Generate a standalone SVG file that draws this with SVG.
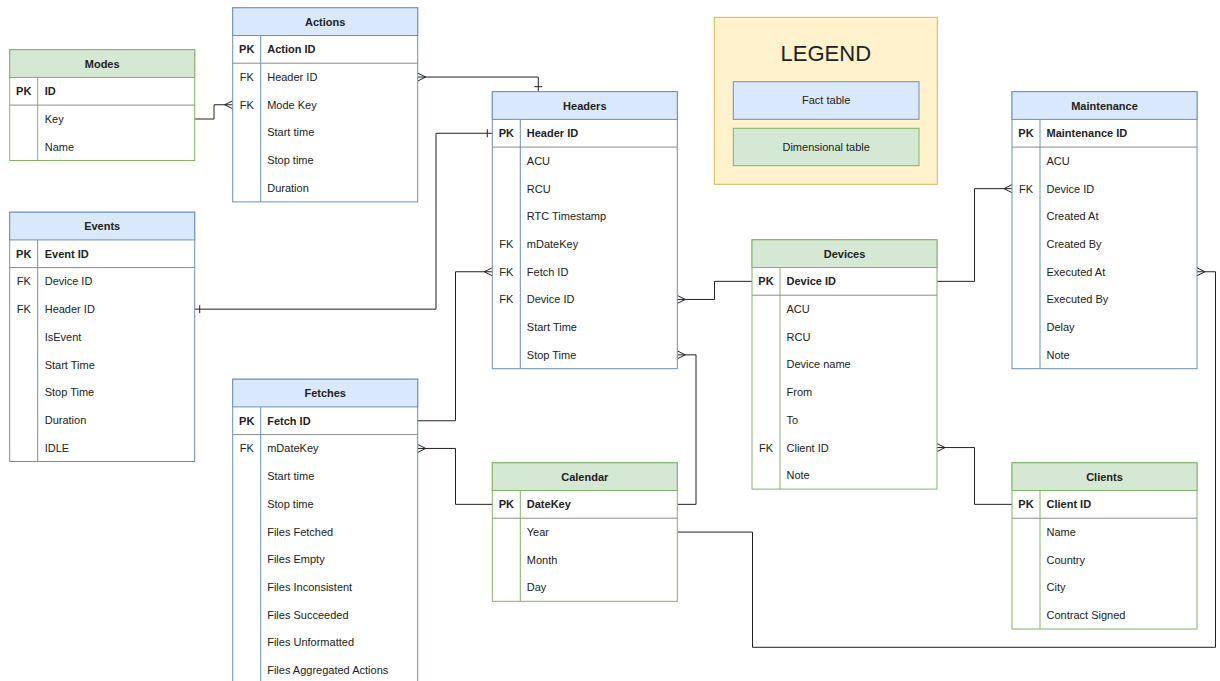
<svg xmlns="http://www.w3.org/2000/svg" width="1220" height="681" viewBox="0 0 1220 681">
<style>
text{font-family:"Liberation Sans",Arial,Helvetica,sans-serif;font-size:11px;fill:#222}
.t{font-weight:bold;text-anchor:middle}
.k{text-anchor:middle}
.kb{text-anchor:middle;font-weight:bold}
.pk{font-weight:bold}
.fbox{fill:#fff;stroke:#6c8ebf;stroke-width:1}
.fhead{fill:#dae8fc;stroke:#6c8ebf;stroke-width:1}
.fline{stroke:#6c8ebf;stroke-width:1}
.dbox{fill:#fff;stroke:#82b366;stroke-width:1}
.dhead{fill:#d5e8d4;stroke:#82b366;stroke-width:1}
.dline{stroke:#82b366;stroke-width:1}
.sep{stroke:#8c8c8c;stroke-width:1}
.conn{fill:none;stroke:#222;stroke-width:1}
.leg{text-anchor:middle}
</style>
<defs>
<marker id="many" viewBox="-10 -6 12 12" refX="0" refY="0" markerWidth="12" markerHeight="12" markerUnits="userSpaceOnUse" orient="auto-start-reverse"><path d="M0,-4 L-8,0 L0,4" fill="none" stroke="#222" stroke-width="1"/></marker>
<marker id="one" viewBox="-10 -6 12 12" refX="0" refY="0" markerWidth="12" markerHeight="12" markerUnits="userSpaceOnUse" orient="auto-start-reverse"><path d="M-5,-4 L-5,4" fill="none" stroke="#222" stroke-width="1"/></marker>
</defs>
<rect width="1220" height="681" fill="#ffffff"/>

<g id="connectors">
<path class="conn" d="M194.7 119 H214 V104.75 H232.7" marker-end="url(#many)"/>
<path class="conn" d="M417.7 77.05 H538.3 V91.7" marker-start="url(#many)" marker-end="url(#one)"/>
<path class="conn" d="M194.7 309.15 H436 V133.25 H492.3" marker-start="url(#one)" marker-end="url(#one)"/>
<path class="conn" d="M417.7 420.75 H455.5 V271.75 H492.3" marker-end="url(#many)"/>
<path class="conn" d="M417.7 448.45 H455.5 V504.35 H492.3" marker-start="url(#many)"/>
<path class="conn" d="M677.3 354.85 H696 V504.35 H677.3" marker-start="url(#many)"/>
<path class="conn" d="M677.3 299.45 H714.5 V281.35 H752" marker-start="url(#many)"/>
<path class="conn" d="M937 281.35 H974.5 V188.65 H1012" marker-end="url(#many)"/>
<path class="conn" d="M937 447.55 H974.5 V504.35 H1012" marker-start="url(#many)"/>
<path class="conn" d="M1197 271.75 H1215.5 V647.3 H752.5 V532.05 H677.3" marker-start="url(#many)"/>
</g>

<g id="legend">
<rect x="714.3" y="17.3" width="223" height="167" fill="#fff2cc" stroke="#d6b656"/>
<text x="825.8" y="61.2" class="leg" style="font-size:22px">LEGEND</text>
<rect x="733.3" y="81.7" width="185.7" height="37.6" fill="#dae8fc" stroke="#6c8ebf"/>
<text x="826.2" y="104.3" class="leg">Fact table</text>
<rect x="733.3" y="128.3" width="185.7" height="37.4" fill="#d5e8d4" stroke="#82b366"/>
<text x="826.2" y="150.9" class="leg">Dimensional table</text>
</g>

<g id="modes">
<rect class="dbox" x="9.7" y="49.7" width="185" height="110.8"/>
<rect class="dhead" x="9.7" y="49.7" width="185" height="27.7"/>
<line class="sep" x1="9.7" y1="105.1" x2="194.7" y2="105.1"/>
<line class="dline" x1="37.7" y1="77.4" x2="37.7" y2="160.5"/>
<text class="t" x="102.2" y="67.55">Modes</text>
<text class="kb" x="23.7" y="95.25">PK</text><text class="pk" x="44.7" y="95.25">ID</text>
<text x="44.7" y="123">Key</text>
<text x="44.7" y="150.7">Name</text>
</g>

<g id="actions">
<rect class="fbox" x="232.7" y="7.8" width="185" height="194.1"/>
<rect class="fhead" x="232.7" y="7.8" width="185" height="27.7"/>
<line class="sep" x1="232.7" y1="63.2" x2="417.7" y2="63.2"/>
<line class="fline" x1="260.7" y1="35.5" x2="260.7" y2="201.9"/>
<text class="t" x="325.2" y="25.65">Actions</text>
<text class="kb" x="246.7" y="53.35">PK</text><text class="pk" x="267.2" y="53.35">Action ID</text>
<text class="k" x="246.7" y="81.05">FK</text><text x="267.2" y="81.05">Header ID</text>
<text class="k" x="246.7" y="108.75">FK</text><text x="267.2" y="108.75">Mode Key</text>
<text x="267.2" y="136.45">Start time</text>
<text x="267.2" y="164.15">Stop time</text>
<text x="267.2" y="191.85">Duration</text>
</g>

<g id="events">
<rect class="fbox" x="9.7" y="212.2" width="185" height="249.3"/>
<rect class="fhead" x="9.7" y="212.2" width="185" height="27.7"/>
<line class="sep" x1="9.7" y1="267.6" x2="194.7" y2="267.6"/>
<line class="fline" x1="37.7" y1="239.9" x2="37.7" y2="461.5"/>
<text class="t" x="102.2" y="230.05">Events</text>
<text class="kb" x="23.7" y="257.75">PK</text><text class="pk" x="44.7" y="257.75">Event ID</text>
<text class="k" x="23.7" y="285.45">FK</text><text x="44.7" y="285.45">Device ID</text>
<text class="k" x="23.7" y="313.15">FK</text><text x="44.7" y="313.15">Header ID</text>
<text x="44.7" y="340.85">IsEvent</text>
<text x="44.7" y="368.55">Start Time</text>
<text x="44.7" y="396.25">Stop Time</text>
<text x="44.7" y="423.95">Duration</text>
<text x="44.7" y="451.65">IDLE</text>
</g>

<g id="fetches">
<rect class="fbox" x="232.7" y="379.2" width="185" height="310"/>
<rect class="fhead" x="232.7" y="379.2" width="185" height="27.7"/>
<line class="sep" x1="232.7" y1="434.6" x2="417.7" y2="434.6"/>
<line class="fline" x1="260.7" y1="406.9" x2="260.7" y2="690"/>
<text class="t" x="325.2" y="397.05">Fetches</text>
<text class="kb" x="246.7" y="424.75">PK</text><text class="pk" x="267.2" y="424.75">Fetch ID</text>
<text class="k" x="246.7" y="452.45">FK</text><text x="267.2" y="452.45">mDateKey</text>
<text x="267.2" y="480.15">Start time</text>
<text x="267.2" y="507.85">Stop time</text>
<text x="267.2" y="535.55">Files Fetched</text>
<text x="267.2" y="563.25">Files Empty</text>
<text x="267.2" y="590.95">Files Inconsistent</text>
<text x="267.2" y="618.65">Files Succeeded</text>
<text x="267.2" y="646.35">Files Unformatted</text>
<text x="267.2" y="674.05">Files Aggregated Actions</text>
</g>

<g id="headers">
<rect class="fbox" x="492.3" y="91.7" width="185" height="277"/>
<rect class="fhead" x="492.3" y="91.7" width="185" height="27.7"/>
<line class="sep" x1="492.3" y1="147.1" x2="677.3" y2="147.1"/>
<line class="fline" x1="520.3" y1="119.4" x2="520.3" y2="368.7"/>
<text class="t" x="584.8" y="109.55">Headers</text>
<text class="kb" x="506.3" y="137.25">PK</text><text class="pk" x="526.8" y="137.25">Header ID</text>
<text x="526.8" y="164.95">ACU</text>
<text x="526.8" y="192.65">RCU</text>
<text x="526.8" y="220.35">RTC Timestamp</text>
<text class="k" x="506.3" y="248.05">FK</text><text x="526.8" y="248.05">mDateKey</text>
<text class="k" x="506.3" y="275.75">FK</text><text x="526.8" y="275.75">Fetch ID</text>
<text class="k" x="506.3" y="303.45">FK</text><text x="526.8" y="303.45">Device ID</text>
<text x="526.8" y="331.15">Start Time</text>
<text x="526.8" y="358.85">Stop Time</text>
</g>

<g id="calendar">
<rect class="dbox" x="492.3" y="462.8" width="185" height="138.5"/>
<rect class="dhead" x="492.3" y="462.8" width="185" height="27.7"/>
<line class="sep" x1="492.3" y1="518.2" x2="677.3" y2="518.2"/>
<line class="dline" x1="520.3" y1="490.5" x2="520.3" y2="601.3"/>
<text class="t" x="584.8" y="480.65">Calendar</text>
<text class="kb" x="506.3" y="508.35">PK</text><text class="pk" x="526.8" y="508.35">DateKey</text>
<text x="526.8" y="536.05">Year</text>
<text x="526.8" y="563.75">Month</text>
<text x="526.8" y="591.45">Day</text>
</g>

<g id="devices">
<rect class="dbox" x="752" y="239.8" width="185" height="249.3"/>
<rect class="dhead" x="752" y="239.8" width="185" height="27.7"/>
<line class="sep" x1="752" y1="295.2" x2="937" y2="295.2"/>
<line class="dline" x1="780" y1="267.5" x2="780" y2="489.1"/>
<text class="t" x="844.5" y="257.65">Devices</text>
<text class="kb" x="766" y="285.35">PK</text><text class="pk" x="786.5" y="285.35">Device ID</text>
<text x="786.5" y="313.05">ACU</text>
<text x="786.5" y="340.75">RCU</text>
<text x="786.5" y="368.45">Device name</text>
<text x="786.5" y="396.15">From</text>
<text x="786.5" y="423.85">To</text>
<text class="k" x="766" y="451.55">FK</text><text x="786.5" y="451.55">Client ID</text>
<text x="786.5" y="479.25">Note</text>
</g>

<g id="maintenance">
<rect class="fbox" x="1012" y="91.7" width="185" height="277"/>
<rect class="fhead" x="1012" y="91.7" width="185" height="27.7"/>
<line class="sep" x1="1012" y1="147.1" x2="1197" y2="147.1"/>
<line class="fline" x1="1040" y1="119.4" x2="1040" y2="368.7"/>
<text class="t" x="1104.5" y="109.55">Maintenance</text>
<text class="kb" x="1026" y="137.25">PK</text><text class="pk" x="1046.5" y="137.25">Maintenance ID</text>
<text x="1046.5" y="164.95">ACU</text>
<text class="k" x="1026" y="192.65">FK</text><text x="1046.5" y="192.65">Device ID</text>
<text x="1046.5" y="220.35">Created At</text>
<text x="1046.5" y="248.05">Created By</text>
<text x="1046.5" y="275.75">Executed At</text>
<text x="1046.5" y="303.45">Executed By</text>
<text x="1046.5" y="331.15">Delay</text>
<text x="1046.5" y="358.85">Note</text>
</g>

<g id="clients">
<rect class="dbox" x="1012" y="462.8" width="185" height="166.2"/>
<rect class="dhead" x="1012" y="462.8" width="185" height="27.7"/>
<line class="sep" x1="1012" y1="518.2" x2="1197" y2="518.2"/>
<line class="dline" x1="1040" y1="490.5" x2="1040" y2="629"/>
<text class="t" x="1104.5" y="480.65">Clients</text>
<text class="kb" x="1026" y="508.35">PK</text><text class="pk" x="1046.5" y="508.35">Client ID</text>
<text x="1046.5" y="536.05">Name</text>
<text x="1046.5" y="563.75">Country</text>
<text x="1046.5" y="591.45">City</text>
<text x="1046.5" y="619.15">Contract Signed</text>
</g>
</svg>
